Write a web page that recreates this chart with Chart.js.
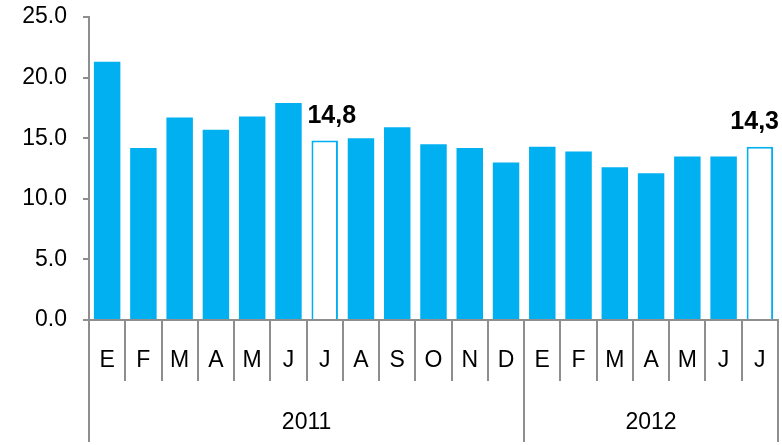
<!DOCTYPE html>
<html>
<head>
<meta charset="utf-8">
<script src="https://cdn.jsdelivr.net/npm/chart.js@4.4.0/dist/chart.umd.min.js"></script>
<style>
  html, body { margin: 0; padding: 0; background: #fff; }
  #wrap { width: 782px; height: 445px; }
</style>
</head>
<body>
<div id="wrap"><canvas id="chart" width="782" height="445"></canvas></div>
<script>
// data
const months = ['E', 'F', 'M', 'A', 'M', 'J', 'J', 'A', 'S', 'O', 'N', 'D', 'E', 'F', 'M', 'A', 'M', 'J', 'J'];
const values = [21.3, 14.2, 16.7, 15.7, 16.8, 17.9, 14.8, 15.0, 15.9, 14.5, 14.2, 13.0, 14.3, 13.9, 12.6, 12.1, 13.5, 13.5, 14.3];
const valueLabels = [null, null, null, null, null, null, '14,8', null, null, null, null, null, null, null, null, null, null, null, '14,3'];
const years = ['2011', '2012'];
const yearStarts = [0, 12];
const yTicks = [0, 5, 10, 15, 20, 25];

const CYAN = '#00B0F0';
const AXIS = '#8e8e8e';
const FONT = "'Liberation Sans', Arial, sans-serif";

// long separators + year row + value labels
var groupPlugin = {
  id: 'groups',
  afterDraw: function (chart) {
    const ctx = chart.ctx;
    const xs = chart.scales.x;
    const area = chart.chartArea;
    const slot = xs.width / months.length;
    const edges = yearStarts.concat([months.length]);

    ctx.save();
    ctx.strokeStyle = AXIS;
    ctx.lineWidth = 2;
    edges.forEach(function (i) {
      const x = Math.round(xs.left + slot * i);
      ctx.beginPath();
      ctx.moveTo(x, area.bottom);
      ctx.lineTo(x, area.bottom + 122);
      ctx.stroke();
    });

    ctx.fillStyle = '#000';
    ctx.font = '23px ' + FONT;
    ctx.textAlign = 'center';
    ctx.textBaseline = 'middle';
    years.forEach(function (y, k) {
      const x0 = xs.left + slot * edges[k];
      const x1 = xs.left + slot * edges[k + 1];
      ctx.fillText(y, (x0 + x1) / 2, area.bottom + 103);
    });

    const meta = chart.getDatasetMeta(0);
    ctx.font = 'bold 25px ' + FONT;
    ctx.textBaseline = 'alphabetic';
    valueLabels.forEach(function (txt, i) {
      if (!txt) return;
      const bar = meta.data[i];
      const w = ctx.measureText(txt).width;
      let cx = bar.x + 7;
      if (cx + w / 2 > chart.width - 3) cx = chart.width - 3 - w / 2;
      ctx.fillText(txt, cx, bar.y - 18);
    });
    ctx.restore();
  }
};

new Chart(document.getElementById('chart'), {
  type: 'bar',
  data: {
    labels: months,
    datasets: [{
      data: values,
      backgroundColor: valueLabels.map(function (l) { return l ? '#ffffff' : CYAN; }),
      borderColor: CYAN,
      borderWidth: valueLabels.map(function (l) { return l ? 2 : 0; }),
      barPercentage: 0.73,
      categoryPercentage: 1.0
    }]
  },
  options: {
    responsive: false,
    animation: false,
    devicePixelRatio: 1,
    layout: { padding: { top: 17, right: 4, left: 0, bottom: 0 } },
    plugins: {
      legend: { display: false },
      tooltip: { enabled: false }
    },
    scales: {
      y: {
        min: 0,
        max: 25,
        afterBuildTicks: function (axis) {
          axis.ticks = yTicks.map(function (v) { return { value: v }; });
        },
        afterFit: function (axis) {
          axis.width = 89;
          axis.paddingTop = 0;
          axis.paddingBottom = 0;
        },
        border: { display: true, color: AXIS, width: 2 },
        grid: { drawOnChartArea: false, color: AXIS, lineWidth: 2, tickLength: 6 },
        ticks: {
          color: '#000',
          padding: 16,
          font: { family: FONT, size: 23 },
          callback: function (v) { return Number(v).toFixed(1); }
        }
      },
      x: {
        afterFit: function (axis) { axis.height = 125; },
        border: { display: true, color: AXIS, width: 2 },
        grid: { offset: true, drawOnChartArea: false, color: AXIS, lineWidth: 2, tickLength: 61 },
        ticks: {
          color: '#000',
          padding: -34,
          maxRotation: 0,
          autoSkip: false,
          font: { family: FONT, size: 23 }
        }
      }
    }
  },
  plugins: [groupPlugin]
});
</script>
</body>
</html>
